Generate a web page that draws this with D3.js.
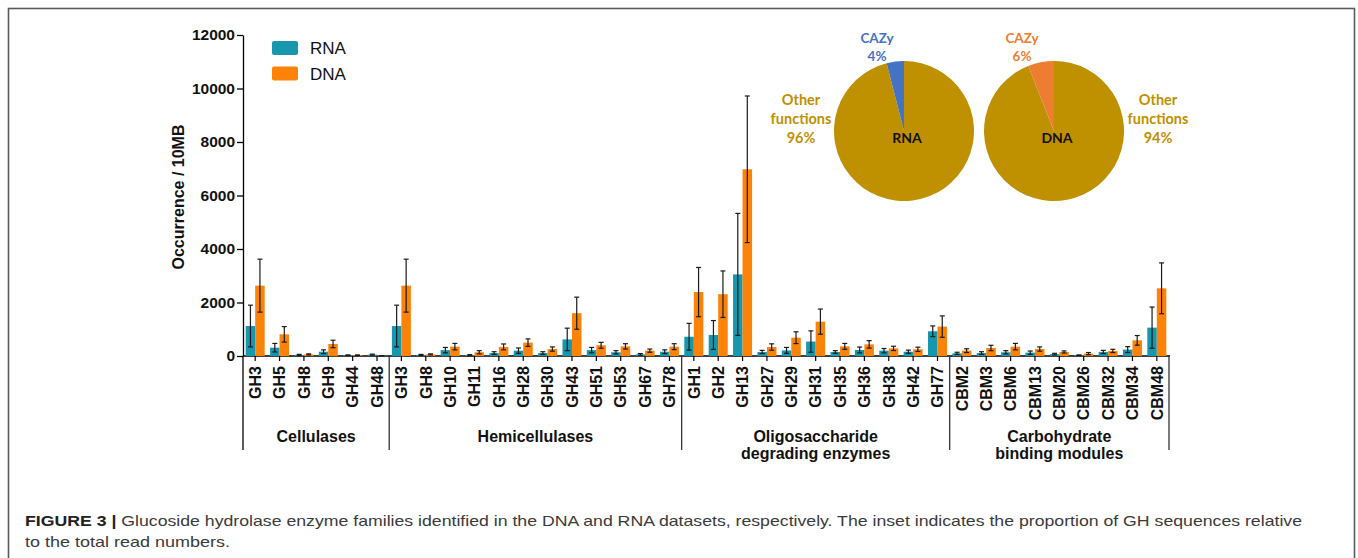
<!DOCTYPE html>
<html>
<head>
<meta charset="utf-8">
<script src="https://cdn.jsdelivr.net/npm/d3@7"></script>
<style>
  body { margin: 0; background: #fff; }
  svg { display: block; font-family: "Liberation Sans", Arial, sans-serif; }
</style>
</head>
<body>
<svg id="chart" width="1358" height="558"></svg>
<script>
// groups of enzyme families (label lines split by |)
var groups = ["Cellulases", "Hemicellulases", "Oligosaccharide|degrading enzymes", "Carbohydrate|binding modules"];
var groupSizes = [6, 12, 11, 9];

var families = ["GH3", "GH5", "GH8", "GH9", "GH44", "GH48",
  "GH3", "GH8", "GH10", "GH11", "GH16", "GH28", "GH30", "GH43", "GH51", "GH53", "GH67", "GH78",
  "GH1", "GH2", "GH13", "GH27", "GH29", "GH31", "GH35", "GH36", "GH38", "GH42", "GH77",
  "CBM2", "CBM3", "CBM6", "CBM13", "CBM20", "CBM26", "CBM32", "CBM34", "CBM48"];

// occurrence / 10MB
var rnaMean = [1120, 310, 40, 160, 30, 50,
  1120, 40, 220, 30, 110, 200, 110, 620, 220, 140, 60, 160,
  720, 785, 3050, 150, 210, 540, 150, 225, 200, 160, 925,
  100, 110, 140, 125, 70, 30, 150, 240, 1060];
var rnaErr = [780, 160, 20, 70, 10, 20,
  780, 20, 100, 20, 50, 100, 50, 420, 100, 60, 30, 70,
  500, 540, 2280, 60, 110, 400, 50, 110, 80, 60, 200,
  40, 50, 60, 60, 30, 10, 60, 110, 770];
var dnaMean = [2630, 810, 60, 450, 30, 10,
  2630, 60, 350, 140, 340, 500, 260, 1600, 400, 360, 200, 350,
  2390, 2310, 6980, 335, 685, 1285, 360, 435, 285, 250, 1100,
  200, 300, 350, 260, 150, 90, 190, 585, 2530];
var dnaErr = [990, 290, 20, 140, 10, 5,
  990, 20, 120, 60, 110, 140, 80, 600, 110, 100, 60, 110,
  920, 870, 2740, 120, 220, 470, 110, 140, 80, 80, 400,
  70, 100, 120, 80, 40, 40, 60, 180, 950];

var yTicks = [0, 2000, 4000, 6000, 8000, 10000, 12000];

// inset pies (%)
var pieNames = ["Other functions", "CAZy"];
var rnaShare = [96, 4];
var dnaShare = [94, 6];

var colRNA = "#1797ad", colDNA = "#fd8208";
var colGold = "#bf9000", colBlue = "#4472c4", colOrange = "#ed7d31";

var svg = d3.select("#chart");

// frame around the figure
svg.append("rect")
  .attr("x", 8.5).attr("y", 8.5)
  .attr("width", 1346).attr("height", 570)
  .attr("fill", "none")
  .attr("stroke", "#5a5a5a")
  .attr("stroke-width", 1.6);

var plotLeft = 243, plotRight = 1169, plotTop = 35, base = 356;

var x = d3.scaleBand()
  .domain(d3.range(families.length))
  .range([plotLeft, plotRight])
  .paddingInner(0.22)
  .paddingOuter(0.11);

var sub = d3.scaleBand()
  .domain(["RNA", "DNA"])
  .range([0, x.bandwidth()]);

var y = d3.scaleLinear()
  .domain([0, 12000])
  .range([base, plotTop]);

// y axis
var yAxis = svg.append("g")
  .attr("transform", "translate(" + plotLeft + ",0)")
  .call(d3.axisLeft(y).tickValues(yTicks).tickFormat(d3.format("d"))
    .tickSize(6).tickSizeOuter(0).tickPadding(2));
yAxis.select(".domain").attr("stroke", "#000").attr("stroke-width", 1.3);
yAxis.selectAll(".tick line").attr("stroke", "#000").attr("stroke-width", 1.3);
yAxis.selectAll("text")
  .attr("fill", "#111")
  .style("font-size", "15.5px")
  .style("font-weight", "bold");

svg.append("text")
  .attr("transform", "translate(184,197) rotate(-90)")
  .attr("text-anchor", "middle")
  .style("font-size", "16px")
  .style("font-weight", "bold")
  .attr("fill", "#111")
  .text("Occurrence / 10MB");

// x axis
var xAxis = svg.append("g")
  .attr("transform", "translate(0," + base + ")")
  .call(d3.axisBottom(x).tickSize(5).tickSizeOuter(0)
    .tickFormat(function(i) { return families[i]; }));
xAxis.select(".domain").attr("stroke", "#000").attr("stroke-width", 1.3)
  .attr("d", "M" + plotLeft + ",0H" + (plotRight + 1));
xAxis.selectAll(".tick line").attr("stroke", "#000").attr("stroke-width", 1.2);
xAxis.selectAll("text")
  .attr("transform", "rotate(-90)")
  .attr("x", -10).attr("y", 0).attr("dy", "0.36em")
  .style("text-anchor", "end")
  .style("font-size", "16px")
  .style("font-weight", "bold")
  .attr("fill", "#111");

// group separators and labels
var step = x.step();
var start = 0;
groups.forEach(function(g, gi) {
  var end = start + groupSizes[gi];
  var x0 = x(start) + x.bandwidth() / 2 - step / 2;
  var x1 = x(end - 1) + x.bandwidth() / 2 + step / 2;
  svg.append("line")
    .attr("x1", x0).attr("x2", x0)
    .attr("y1", base).attr("y2", 450)
    .attr("stroke", gi == 0 ? "#000" : "#333").attr("stroke-width", 1.3);
  if (gi == groups.length - 1) {
    svg.append("line")
      .attr("x1", x1).attr("x2", x1)
      .attr("y1", base).attr("y2", 450)
      .attr("stroke", "#333").attr("stroke-width", 1.3);
  }
  var t = svg.append("text")
    .attr("text-anchor", "middle")
    .style("font-size", "16px")
    .style("font-weight", "bold")
    .attr("fill", "#111");
  g.split("|").forEach(function(line, li) {
    t.append("tspan")
      .attr("x", (x0 + x1) / 2)
      .attr("y", 442 + li * 17)
      .text(line);
  });
  start = end;
});

// bars
var series = [
  {key: "RNA", mean: rnaMean, err: rnaErr, color: colRNA},
  {key: "DNA", mean: dnaMean, err: dnaErr, color: colDNA}
];

series.forEach(function(s) {
  var g = svg.append("g");
  g.selectAll("rect")
    .data(s.mean)
    .enter().append("rect")
      .attr("x", function(d, i) { return x(i) + sub(s.key); })
      .attr("width", sub.bandwidth())
      .attr("y", function(d) { return y(d); })
      .attr("height", function(d) { return base - y(d); })
      .attr("fill", s.color);
});

// error bars on top
series.forEach(function(s) {
  var g = svg.append("g").attr("stroke", "#1a1a1a").attr("stroke-width", 1.2);
  s.mean.forEach(function(m, i) {
    var cx = x(i) + sub(s.key) + sub.bandwidth() / 2;
    var hi = y(m + s.err[i]);
    var lo = y(Math.max(0, m - s.err[i]));
    g.append("line").attr("x1", cx).attr("x2", cx).attr("y1", hi).attr("y2", lo);
    g.append("line").attr("x1", cx - 2.5).attr("x2", cx + 2.5).attr("y1", hi).attr("y2", hi);
    g.append("line").attr("x1", cx - 2.5).attr("x2", cx + 2.5).attr("y1", lo).attr("y2", lo);
  });
});

// legend
series.forEach(function(s, i) {
  svg.append("rect")
    .attr("x", 272).attr("y", 41 + i * 25.5)
    .attr("width", 26).attr("height", 14)
    .attr("rx", 2)
    .attr("fill", s.color);
  svg.append("text")
    .attr("x", 310).attr("y", 54 + i * 25.5)
    .style("font-size", "17px")
    .attr("fill", "#111")
    .text(s.key);
});

// inset pies
var pie = d3.pie().sort(null);
var arc = d3.arc().innerRadius(0).outerRadius(70);
var pies = [
  {name: "RNA", share: rnaShare, cx: 904, color: colBlue, cazyDx: -27, otherDx: -103},
  {name: "DNA", share: dnaShare, cx: 1054, color: colOrange, cazyDx: -32, otherDx: 104}
];
var pieFont = "Lato, 'Open Sans', sans-serif";

pies.forEach(function(p) {
  var g = svg.append("g").attr("transform", "translate(" + p.cx + ",131)");
  g.selectAll("path")
    .data(pie(p.share))
    .enter().append("path")
      .attr("d", arc)
      .attr("fill", function(d, i) { return i == 0 ? colGold : p.color; });
  g.append("text")
    .attr("x", 3).attr("y", 12)
    .attr("text-anchor", "middle")
    .style("font-family", pieFont)
    .style("font-size", "14px")
    .style("font-weight", "bold")
    .attr("fill", "#111")
    .text(p.name);

  var c = svg.append("text")
    .attr("text-anchor", "middle")
    .style("font-family", pieFont)
    .style("font-size", "13.5px")
    .style("font-weight", "bold")
    .attr("fill", p.color);
  c.append("tspan").attr("x", p.cx + p.cazyDx).attr("y", 43).text(pieNames[1]);
  c.append("tspan").attr("x", p.cx + p.cazyDx).attr("y", 61).text(p.share[1] + "%");

  var o = svg.append("text")
    .attr("text-anchor", "middle")
    .style("font-family", pieFont)
    .style("font-size", "14.5px")
    .style("font-weight", "bold")
    .attr("fill", colGold);
  var words = pieNames[0].split(" ");
  o.append("tspan").attr("x", p.cx + p.otherDx).attr("y", 105).text(words[0]);
  o.append("tspan").attr("x", p.cx + p.otherDx).attr("y", 124).text(words[1]);
  o.append("tspan").attr("x", p.cx + p.otherDx).attr("y", 143).text(p.share[0] + "%");
});

// caption
var cap1 = svg.append("text")
  .attr("x", 25).attr("y", 526)
  .style("font-size", "15px")
  .attr("fill", "#3a3a3a")
  .attr("textLength", 1277)
  .attr("lengthAdjust", "spacingAndGlyphs");
cap1.append("tspan").style("font-weight", "bold").attr("fill", "#222").text("FIGURE 3 | ");
cap1.append("tspan").text("Glucoside hydrolase enzyme families identified in the DNA and RNA datasets, respectively. The inset indicates the proportion of GH sequences relative");

svg.append("text")
  .attr("x", 25).attr("y", 547)
  .style("font-size", "15px")
  .attr("fill", "#3a3a3a")
  .attr("textLength", 205)
  .attr("lengthAdjust", "spacingAndGlyphs")
  .text("to the total read numbers.");
</script>
</body>
</html>
